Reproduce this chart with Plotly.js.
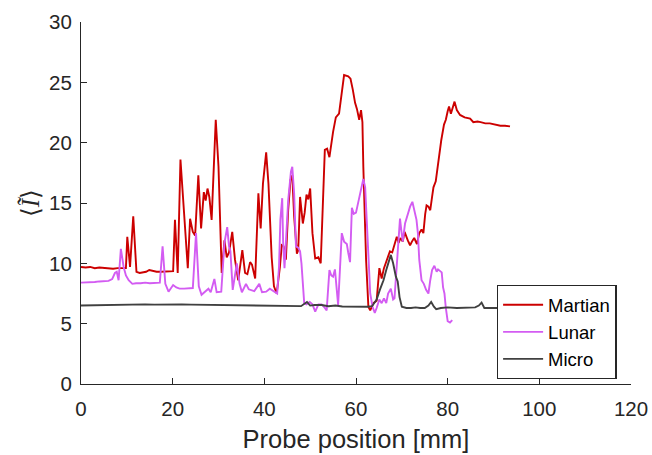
<!DOCTYPE html>
<html>
<head>
<meta charset="utf-8">
<script src="https://cdn.plot.ly/plotly-3.0.1.min.js"></script>
<style>html,body{margin:0;padding:0;background:#fff;}#chart{width:652px;height:455px;}</style>
</head>
<body>
<div id="chart"></div>
<script>
// Martian series
var martianX = [0,1,2,3,4,5,6,7,8,9,9.8,10.1,10.7,11.4,12.1,12.8,13.5,14.2,14.9,15.7,16.5,17.5,18.5,19.5,20.1,20.5,21.1,21.7,22.5,23.3,23.8,24.4,24.9,25.6,26.2,26.8,27.2,27.6,28.0,28.5,29.4,30.0,30.7,31.3,31.8,32.3,33.0,33.6,34.3,35.2,35.8,36.3,36.9,37.3,38.0,38.7,39.2,39.7,40.4,40.9,41.6,42.1,42.7,43.4,43.8,44.2,44.7,45.2,45.7,46.1,46.5,47.1,47.4,47.8,48.4,48.8,49.2,49.6,50.0,50.5,51.1,51.8,52.3,52.7,53.2,53.7,54.2,55.0,55.6,56.3,56.7,57.4,58.3,58.8,59.3,59.8,60.2,60.7,61.1,61.4,61.6,62.2,62.7,63.1,63.8,64.5,65.1,65.6,66.1,66.7,67.4,67.9,68.5,68.9,69.3,69.7,70.2,70.6,71.3,71.8,72.2,72.7,73.3,73.8,74.3,74.7,75.1,75.4,75.8,76.2,76.6,76.9,77.4,78.0,78.6,79.2,79.6,80.0,80.3,80.7,81.1,81.5,82.0,82.7,83.7,84.9,85.6,86.5,87.2,88.2,89.2,90.4,91.5,92.5,93.6];
var martianY = [9.7,9.65,9.7,9.6,9.65,9.6,9.6,9.55,9.6,9.6,9.6,12.2,9.7,13.9,9.3,9.2,9.25,9.3,9.45,9.35,9.3,9.3,9.3,9.3,9.35,13.6,9.2,18.6,13.9,9.6,13.7,12.6,12.3,17.3,12.9,15.9,15.2,16.2,15.5,13.6,21.9,18.0,9.2,11.9,10.5,10.9,12.6,10.3,8.6,11.1,9.2,9.1,10.1,9.9,8.75,15.8,12.9,16.6,19.2,16.6,10.5,8.1,7.5,9.7,11.5,11.4,10.3,14.4,16.9,17.3,13.9,10.8,11.1,15.5,13.3,14.2,15.7,15.3,16.2,12.5,10.4,10.5,10.0,13.9,19.4,19.5,18.8,20.9,22.1,22.4,23.5,25.6,25.5,25.3,24.4,23.3,22.8,21.9,22.7,21.7,18.0,10.3,6.4,6.1,6.7,6.9,9.6,8.75,9.6,10.3,11.0,10.9,11.8,12.2,11.7,12.1,11.8,12.6,11.9,11.5,11.8,12.1,11.6,12.5,12.8,12.5,14.1,14.8,14.7,14.4,15.5,16.3,16.8,18.6,20.2,21.5,21.9,22.6,23.0,22.4,23.0,23.4,22.7,22.3,22.1,22.0,21.7,21.75,21.7,21.6,21.6,21.5,21.4,21.4,21.35];

// Lunar series
var lunarX = [0,1,2,3,4,5,6,6.8,7.4,7.8,8.2,8.7,9.3,9.8,10.4,11.2,12,13,14,15,16,17.2,17.8,18.4,19.1,19.6,20.1,20.8,21.5,22.5,23.5,24.4,25.1,25.7,26.3,27.0,27.8,28.3,29.1,29.6,30.6,31.3,31.9,32.3,32.6,33.1,33.5,34.0,34.6,35.1,36.0,36.6,37.8,38.9,39.5,40.4,41.2,42.3,42.8,43.2,43.5,43.9,44.1,44.4,44.7,45.2,45.8,46.1,46.5,46.9,47.4,47.8,48.1,48.5,48.7,49.2,49.9,50.5,51.1,51.8,52.5,53.0,53.6,54.2,54.6,55.0,55.4,56.1,56.5,56.9,57.4,58.0,58.3,58.7,59.1,59.5,60.0,60.5,61.0,61.6,62.0,62.3,62.7,63.1,63.6,64.1,64.5,65.1,65.6,66.1,66.6,67.0,67.6,68.1,68.4,68.8,69.2,69.6,69.9,70.2,70.7,71.3,71.8,72.3,72.7,73.2,73.5,73.8,74.3,74.8,75.3,75.8,76.2,76.6,77.1,77.6,77.9,78.4,78.7,79.0,79.3,79.6,80.0,80.5,81.0];
var lunarY = [8.4,8.4,8.45,8.45,8.5,8.5,8.55,8.7,9.2,9.3,8.6,11.2,9.7,9.0,8.6,8.3,8.35,8.35,8.4,8.35,8.35,8.4,11.4,8.3,7.65,7.9,8.2,8.0,7.9,7.9,7.9,7.95,12.5,8.1,7.4,7.6,7.9,7.6,8.7,7.6,7.65,11.7,13.0,11.4,11.0,7.8,8.8,10.0,8.3,7.6,8.3,7.85,7.7,8.3,7.6,7.65,7.9,7.6,7.5,9.7,13.6,15.4,11.7,9.6,11.7,15.2,17.6,18.0,15.8,11.4,11.3,11.0,10.0,8.1,6.7,6.6,6.8,6.6,6.0,6.6,6.6,6.4,6.1,9.45,9.0,8.9,9.5,6.55,9.8,12.5,11.8,11.6,10.9,10.1,14.6,14.1,14.2,15.0,15.9,17.0,16.3,13.6,10.5,7.5,6.4,5.9,6.3,7.0,6.7,7.1,6.7,7.5,7.9,7.0,7.1,9.5,12.0,13.7,12.7,11.8,13.3,14.1,14.7,15.1,14.5,13.6,12.5,10.3,8.6,8.3,7.8,7.5,8.6,9.45,9.8,9.3,9.5,9.3,9.25,8.0,7.5,6.3,5.2,5.1,5.3];

// Micro series
var microX = [0,2,4,6,8,10,12,14,16,18,20,22,24,26,28,30,32,34,36,38,40,42,44,46,48,49.3,50,51,52.5,54,55.5,57,59,61,62.5,63.5,64.5,65.2,66.0,66.6,67.3,67.6,68.1,68.7,69.1,69.5,70.0,71,72,73,74,75,75.8,76.4,77.0,77.5,78.5,80,82,84,86,86.8,87.4,88,89,90.6,92,94];
var microY = [6.5,6.52,6.5,6.52,6.55,6.58,6.57,6.6,6.58,6.6,6.62,6.6,6.58,6.57,6.58,6.52,6.5,6.52,6.5,6.5,6.48,6.5,6.47,6.45,6.45,6.8,6.5,6.55,6.55,6.45,6.5,6.42,6.4,6.4,6.4,6.45,7.0,7.8,8.6,9.45,10.5,10.7,10.0,8.9,8.5,7.2,6.4,6.3,6.3,6.35,6.3,6.3,6.5,6.8,6.4,6.2,6.3,6.35,6.3,6.35,6.35,6.5,6.75,6.3,6.3,6.3,6.3,6.3];

var xTicks = [0,20,40,60,80,100,120];
var yTicks = [0,5,10,15,20,25,30];

var traces = [
  {x: martianX, y: martianY, name: 'Martian', type: 'scatter', mode: 'lines', line: {color: '#CC0000', width: 1.9}},
  {x: lunarX, y: lunarY, name: 'Lunar', type: 'scatter', mode: 'lines', line: {color: '#D35CF2', width: 1.9}},
  {x: microX, y: microY, name: 'Micro', type: 'scatter', mode: 'lines', line: {color: '#404040', width: 1.9}}
];

var axisFont = {family: 'Liberation Sans, Arial, sans-serif', size: 20.5, color: '#262626'};

var layout = {
  width: 652, height: 455,
  margin: {l: 81, r: 21, t: 22, b: 71},
  paper_bgcolor: '#ffffff', plot_bgcolor: '#ffffff',
  showlegend: true,
  legend: {
    x: 0.756, y: 0.2735, xanchor: 'left', yanchor: 'top',
    bgcolor: '#ffffff', bordercolor: '#262626', borderwidth: 1.3,
    font: {family: 'Liberation Sans, Arial, sans-serif', size: 18.5, color: '#000'},
    tracegroupgap: 0, itemwidth: 40
  },
  xaxis: {
    range: [0, 120], tickvals: xTicks, ticktext: xTicks.map(String),
    ticks: 'inside', ticklen: 6, tickwidth: 1, tickcolor: '#262626',
    showline: true, linecolor: '#262626', linewidth: 1, mirror: false,
    showgrid: false, zeroline: false, ticklabelstandoff: 6,
    tickfont: axisFont,
    title: {text: 'Probe position [mm]', font: {family: 'Liberation Sans, Arial, sans-serif', size: 25.5, color: '#262626'}, standoff: 11}
  },
  yaxis: {
    range: [0, 30], tickvals: yTicks, ticktext: yTicks.map(String),
    ticks: 'inside', ticklen: 6, tickwidth: 1, tickcolor: '#262626',
    showline: true, linecolor: '#262626', linewidth: 1, mirror: false,
    showgrid: false, zeroline: false, ticklabelstandoff: 4,
    tickfont: axisFont,
    title: {text: '⟨<i>Ĩ</i>⟩', font: {family: 'Liberation Serif, Times New Roman, serif', size: 25, color: '#262626'}, standoff: 2}
  }
};

Plotly.newPlot('chart', traces, layout, {displayModeBar: false, staticPlot: true});
</script>
</body>
</html>
